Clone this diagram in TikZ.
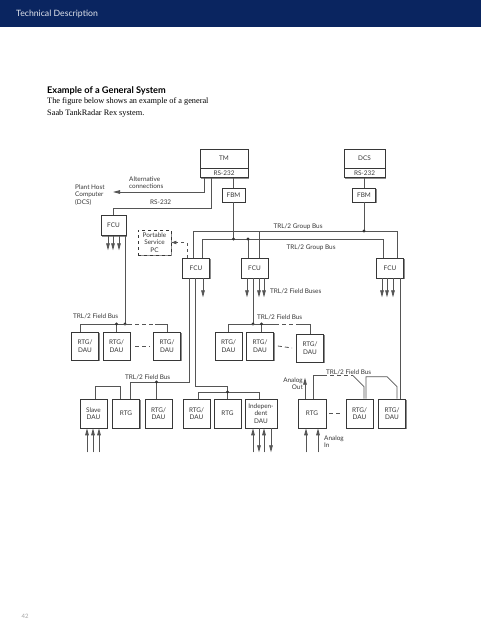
\documentclass[tikz,border=0pt]{standalone}
\usepackage{fontspec}
\setmainfont{Liberation Serif}
\newfontfamily\gill{Lato}
\usetikzlibrary{positioning, arrows.meta, shadows}

\definecolor{navy}{RGB}{10,37,96}
\definecolor{wire}{RGB}{85,85,85}
\definecolor{ink}{RGB}{55,55,55}

\tikzset{
  unit/.style={draw=ink, fill=white, line width=0.65pt, inner sep=0pt,
    font=\gill\fontsize{6.4}{7.4}\selectfont, text=ink, align=center,
    drop shadow={shadow xshift=1.4pt, shadow yshift=-1.4pt, fill=black!45, opacity=1}},
  fcu/.style={unit, minimum width=27, minimum height=20},
  gauge/.style={unit, minimum width=27, minimum height=28},
  gaugelow/.style={gauge, minimum height=29},
  wire/.style={draw=wire, line width=0.8pt},
  feed/.style={wire, -{Triangle[length=7pt, width=3.6pt]}},
  gap/.style={dash pattern=on 4pt off 3pt},
  junct/.style={circle, fill=black!80, inner sep=0pt, minimum size=3.4pt},
  lbl/.style={font=\gill\fontsize{6.4}{7.2}\selectfont, text=ink, inner sep=0pt, align=left},
}

\begin{document}
\begin{tikzpicture}[x=1pt, y=-1pt]
  \path[fill=white] (0,0) rectangle (481,640);
  \useasboundingbox (0,0) rectangle (481,640);
  % page head
  \fill[navy] (0,0) rectangle (481,27);
  \node[anchor=west, inner sep=0pt, text=white!88!navy, font=\gill\fontsize{8.7}{10}\selectfont] (head) at (16,14) {Technical Description};
  \node[anchor=base west, inner sep=0pt, font=\gill\bfseries\fontsize{9.2}{11}\selectfont] (title) at (47,93.5) {Example of a General System};
  \node[anchor=north west, inner sep=0pt, align=left, font=\fontsize{8.3}{12}\selectfont] (intro) at (47,97.5) {The figure below shows an example of a general\\Saab TankRadar Rex system.};
  \node[text=black!35, font=\gill\fontsize{6}{7}\selectfont] (pgno) at (25,616) {42};

  % bus levels
  \coordinate (gbOut) at (0,231);
  \coordinate (gbIn) at (0,239);
  \coordinate (fbL) at (0,324);
  \coordinate (fbLow) at (0,382);
  \coordinate (slaveLink) at (0,386);
  \coordinate (fbMid) at (0,392);

  % top units
  \node[unit, minimum width=48, minimum height=19] (tm) at (224,158.5) {TM};
  \node[unit, minimum width=48, minimum height=9, anchor=north] (tmrs) at (tm.south) {RS-232};
  \node[unit, minimum width=41, minimum height=19] (dcs) at (364.5,158.5) {DCS};
  \node[unit, minimum width=41, minimum height=9, anchor=north] (dcsrs) at (dcs.south) {RS-232};
  \node[unit, minimum width=23, minimum height=14] (fbmA) at (233.5,195) {FBM};
  \node[unit, minimum width=23, minimum height=14] (fbmB) at (364,195) {FBM};

  \node[lbl, anchor=west] (host) at (75,195) {Plant Host\\Computer\\(DCS)};
  \node[lbl, anchor=west] (altlbl) at (129,183) {Alternative\\connections};
  \node[lbl, anchor=base west] (rslbl) at (150,204) {RS-232};

  \node[fcu, minimum width=25] (fcuA) at (113.5,225.5) {FCU};
  \node[unit, dashed, drop shadow={opacity=0}, line width=0.9pt, minimum width=33, minimum height=25] (pc) at (154.5,242.5) {Portable\\Service\\PC};
  \node[fcu] (fcuB) at (196,268) {FCU};
  \node[fcu] (fcuC) at (254.5,268) {FCU};
  \node[fcu] (fcuD) at (390,268) {FCU};

  % links from TM
  \coordinate (alttip) at (113,192);
  \draw[feed] ([xshift=5]tmrs.south west) |- (alttip);
  \draw[wire] ([xshift=12]tmrs.south west) |- ([yshift=7]fcuA.north) -- (fcuA.north);
  \draw[wire] (tmrs.south -| fbmA.north) -- (fbmA.north);
  \draw[wire] (dcsrs.south -| fbmB.north) -- (fbmB.north);

  % group buses
  \draw[wire] ([xshift=-3]fcuB.north) |- ([xshift=7]fcuD.north |- gbOut) -- ([xshift=7]fcuD.north);
  \draw[wire] ([xshift=4.5]fcuC.north) -- ([xshift=4.5]fcuC.north |- gbOut);
  \draw[wire] (fbmB.south) -- (fbmB.south |- gbOut) node[junct] (jDcs) {};
  \draw[wire] ([xshift=6]fcuB.north) |- ([xshift=-7]fcuD.north |- gbIn) -- ([xshift=-7]fcuD.north);
  \draw[wire] (fbmA.south) -- (fbmA.south |- gbIn) node[junct] (jTm) {};
  \draw[wire] ([xshift=-6.5]fcuC.north) -- ([xshift=-6.5]fcuC.north |- gbIn) node[junct] (jFcuC) {};
  \draw[wire, dashed, -{Triangle[length=5pt, width=3.4pt]}] ([xshift=-9]fcuB.north) |- (pc.east);
  \node[lbl, anchor=base] (gbOutLbl) at (298,228.5) {TRL/2 Group Bus};
  \node[lbl, anchor=base] (gbInLbl) at (311,249) {TRL/2 Group Bus};

  % FCU outputs
  \foreach \dx in {-5.5,-0.5,5.5} \draw[feed] ([xshift=\dx]fcuA.south) -- ++(0,14.5);
  \draw[feed] ([xshift=7]fcuB.south) -- ++(0,19);
  \foreach \dx in {-7.5,4.5,9.5} \draw[feed] ([xshift=\dx]fcuC.south) -- ++(0,19);
  \foreach \dx in {-8,-3,3} \draw[feed] ([xshift=\dx]fcuD.south) -- ++(0,19);
  \node[lbl, anchor=base west] (fbsLbl) at (270,293) {TRL/2 Field Buses};

  % first row of gauges
  \node[gauge] (lA) at (85,346) {RTG/\\DAU};
  \node[gauge] (lB) at (116.5,346) {RTG/\\DAU};
  \node[gauge] (lC) at (167,346) {RTG/\\DAU};
  \node[gauge] (mA) at (228.5,346) {RTG/\\DAU};
  \node[gauge] (mB) at (260,346) {RTG/\\DAU};
  \node[gauge] (mC) at (310,348) {RTG/\\DAU};

  \node[lbl, anchor=base west] (fbLLbl) at (73,318) {TRL/2 Field Bus};
  \draw[wire] ([xshift=11.5]fcuA.south) -- ([xshift=11.5]fcuA.south |- fbL) node[junct] (jFcuA) {};
  \draw[wire] ([xshift=-5]lA.north) |- ([xshift=3]jFcuA.center);
  \draw[wire, gap] ([xshift=3]jFcuA.center) -- ([xshift=-12]lC.north |- fbL);
  \draw[wire] ([xshift=-12]lC.north |- fbL) -| (lC.north);
  \draw[wire] (lB.north) -- (lB.north |- fbL) node[junct] (jLB) {};
  \draw[wire, gap] ([xshift=5]lB.east) -- ([xshift=-3]lC.west);

  \node[lbl, anchor=base west] (fbMLbl) at (257,319) {TRL/2 Field Bus};
  \draw[wire] ([xshift=-1.5]fcuC.south) -- ([xshift=-1.5]fcuC.south |- fbL) node[junct] (jFcuC2) {};
  \draw[wire] (mA.north) |- ([xshift=15]mB.north |- fbL);
  \draw[wire, gap] ([xshift=15]mB.north |- fbL) -- ([xshift=-13]mC.north |- fbL);
  \draw[wire] ([xshift=-13]mC.north |- fbL) -| (mC.north);
  \draw[wire] ([xshift=1.5]mB.north) -- ([xshift=1.5]mB.north |- fbL) node[junct] (jMB) {};
  \draw[wire, gap] ([xshift=4]mB.east) -- ([xshift=-4]mC.west);

  % bottom row of gauges
  \node[gaugelow] (bA) at (93.5,413.5) {Slave\\DAU};
  \node[gaugelow] (bB) at (126,413.5) {RTG};
  \node[gaugelow] (bC) at (158.5,413.5) {RTG/\\DAU};
  \node[gaugelow] (bD) at (196.5,413.5) {RTG/\\DAU};
  \node[gaugelow] (bE) at (227.5,413.5) {RTG};
  \node[gaugelow, minimum width=32] (bF) at (261,413.5) {Indepen-\\dent\\DAU};
  \node[gaugelow, minimum width=28] (bG) at (312,413.5) {RTG};
  \node[gaugelow] (bH) at (359.5,413.5) {RTG/\\DAU};
  \node[gaugelow] (bI) at (392,413.5) {RTG/\\DAU};

  \node[lbl, anchor=base west] (fbLowLbl) at (125,379) {TRL/2 Field Bus};
  \draw[wire] ([xshift=-7]fcuB.south) |- ([xshift=4]bB.north |- fbLow) -- ([xshift=4]bB.north);
  \draw[wire] ([xshift=-2]bC.north) -- ([xshift=-2]bC.north |- fbLow) node[junct] (jBC) {};
  \draw[wire] ([xshift=1.5]bA.north) |- ([xshift=-6]bB.north |- slaveLink) -- ([xshift=-6]bB.north);
  \draw[wire] ([xshift=-1]fcuB.south) |- (bE.north |- slaveLink) -- (bE.north);
  \draw[wire] ([xshift=1.5]bD.north) |- ([xshift=-2]bF.north |- fbMid) -- ([xshift=-2]bF.north);
  \node[junct] (jBE) at (bE.north |- fbMid) {};

  \node[lbl, anchor=base west] (fbRLbl) at (326,374) {TRL/2 Field Bus};
  \draw[wire] ([xshift=1]bG.north) |- ([xshift=11, yshift=23]bG.north);
  \draw[wire, gap] ([xshift=11, yshift=23]bG.north) -- ([xshift=-6.5, yshift=23]bH.north);
  \draw[wire] ([xshift=-6.5, yshift=23]bH.north) -- ([xshift=4.5, yshift=12]bH.north) -- ([xshift=4.5]bH.north);
  \draw[wire] ([xshift=6.5]bH.north) -- ([xshift=6.5, yshift=22]bH.north) -- ([xshift=-5, yshift=22]bI.north) -- ([xshift=5, yshift=12]bI.north) -- ([xshift=5]bI.north);
  \draw[wire] ([xshift=10]fcuD.south) -- ([xshift=10]fcuD.south |- bI.north);
  \draw[wire, gap] ([xshift=3]bG.east) -- ([xshift=-3]bH.west);

  % analog and field signals
  \draw[feed] ([xshift=-7]bG.north) -- ++(0,-21);
  \node[lbl, align=right, anchor=east] (aout) at (303,384) {Analog\\Out};
  \foreach \dx in {-6,6} \draw[feed] ([xshift=\dx, yshift=-24]bG.south) -- ([xshift=\dx]bG.south);
  \node[lbl, anchor=west] (ain) at (324,441.5) {Analog\\In};
  \foreach \dx in {-6.5,-0.5,5.5} \draw[feed] ([xshift=\dx, yshift=-24]bA.south) -- ([xshift=\dx]bA.south);
  \foreach \dx in {-8,3} \draw[feed] ([xshift=\dx, yshift=-24]bF.south) -- ([xshift=\dx]bF.south);
  \foreach \dx in {-2,10} \draw[feed] ([xshift=\dx]bF.south) -- ++(0,24);
\end{tikzpicture}
\end{document}
